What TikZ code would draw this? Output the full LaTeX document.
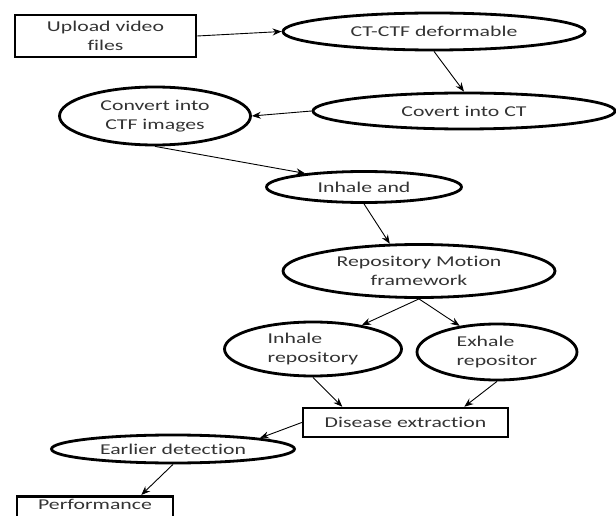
\documentclass[tikz,border=0pt]{standalone}
\usepackage{fontspec}
\setmainfont{Carlito}[FakeStretch=1.45, Ligatures=NoCommon]
\usepackage{tikz}
\usetikzlibrary{shapes,arrows.meta,positioning}

\begin{document}
\begin{tikzpicture}[x=1pt, y=-1pt,
    every node/.style={font=\fontsize{15}{19}\selectfont, text=black!80},
    stage/.style={draw, ellipse, line width=2.8pt, inner sep=0pt},
    box/.style={draw, rectangle, line width=2.5pt},
    flow/.style={->, line width=0.9pt},
    >={Stealth[length=9pt,width=7pt]}]
        \useasboundingbox (0,0) rectangle (616,516);
        \clip (0,0) rectangle (616,516);

        % Input and first conversions
        \node[box, minimum width=181pt, minimum height=42pt, align=center] (upload) at (105.5,36) {Upload video\\files};
        \node[stage, minimum width=302pt, minimum height=37pt] (deform) at (434,31.5) {CT-CTF deformable};
        \node[stage, minimum width=302pt, minimum height=36pt] (covert) at (464,111) {Covert into CT};
        \node[stage, minimum width=191pt, minimum height=58pt, align=center] (ctfimg) at (155,116) {Convert into\\CTF images};

        % Motion framework
        \node[stage, minimum width=195pt, minimum height=31pt] (inhale) at (364,187) {Inhale and};
        \node[stage, minimum width=272pt, minimum height=53pt, align=center] (motion) at (419,271) {Repository Motion\\framework};
        \node[stage, minimum width=177pt, minimum height=54pt, align=left] (inrepo) at (313,349) {Inhale\\repository};
        \node[stage, minimum width=160pt, minimum height=56pt, align=left] (exrepo) at (497,352) {Exhale\\repositor};

        % Extraction and output
        \node[box, minimum width=205pt, minimum height=29pt] (disease) at (405.5,422.5) {Disease extraction};
        \node[stage, minimum width=243pt, minimum height=28pt] (early) at (173,449) {Earlier detection};
        \node[box, minimum width=156pt, text height=10pt, text depth=24pt, anchor=north] (perf) at (95,495) {Performance};

        \draw[flow] (upload.east) -- (deform.west);
        \draw[flow] (deform.south) -- (covert.north);
        \draw[flow] (covert.west) -- (ctfimg.east);
        \draw[flow] (ctfimg.south) -- (inhale.167);
        \draw[flow] (inhale.south) -- (motion.137);
        \draw[flow] (motion.south) -- (inrepo.26);
        \draw[flow] (motion.south) -- (exrepo.145);
        \draw[flow] (inrepo.south) -- (disease.166);
        \draw[flow] (exrepo.south) -- (disease.15);
        \draw[flow] (disease.west) -- (early.north east);
        \draw[flow] (early.south) -- (perf.25);
    \end{tikzpicture}
\end{document}
